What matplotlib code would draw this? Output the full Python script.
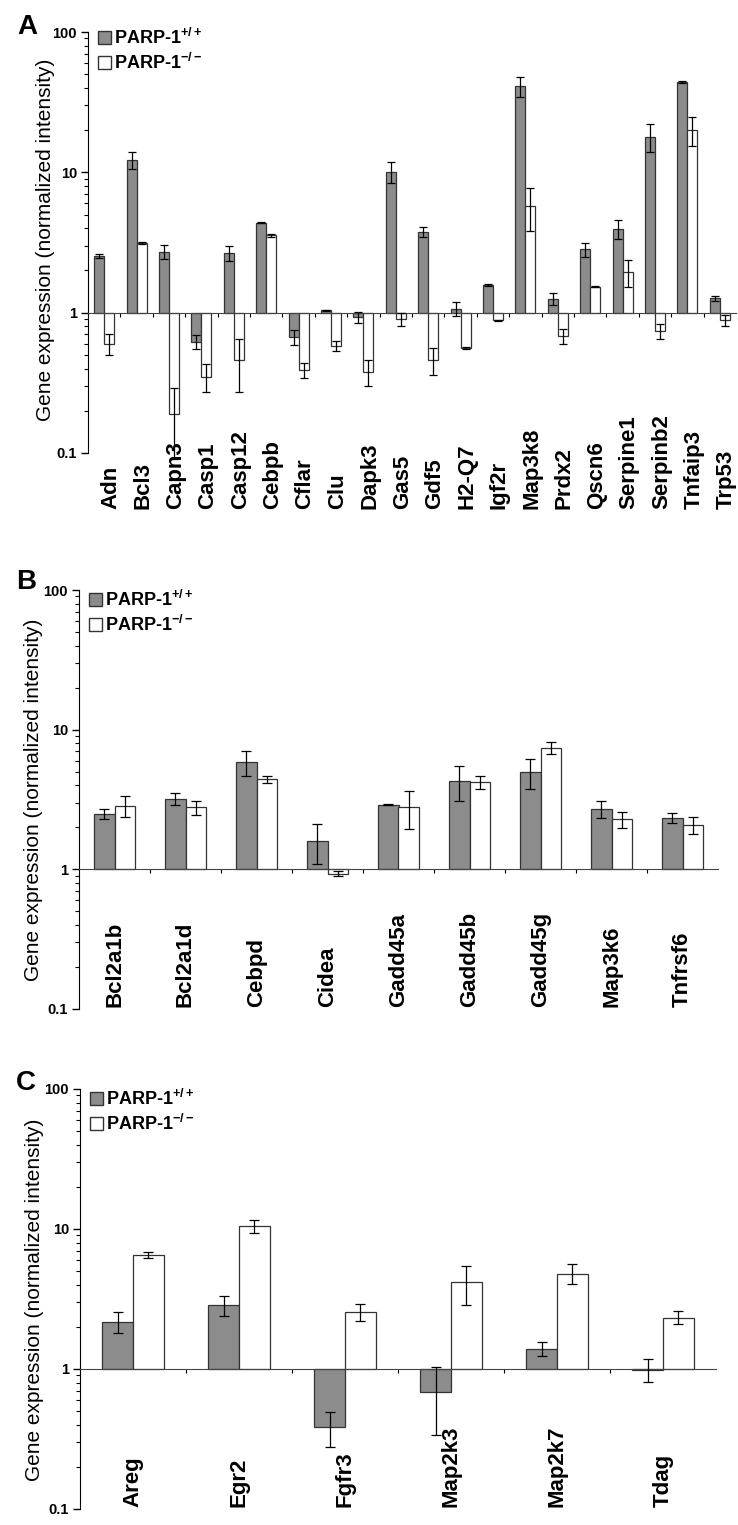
import numpy as np
import matplotlib
matplotlib.use('Agg')
import matplotlib.pyplot as plt
from matplotlib.patches import Patch
from matplotlib.ticker import NullFormatter
from matplotlib.transforms import blended_transform_factory

plt.rcParams['font.family'] = ['Liberation Sans', 'DejaVu Sans']
plt.rcParams['mathtext.fontset'] = 'custom'
plt.rcParams['mathtext.rm'] = 'Liberation Sans:bold'
plt.rcParams['mathtext.bf'] = 'Liberation Sans:bold'
plt.rcParams['mathtext.it'] = 'Liberation Sans:bold'
plt.rcParams['mathtext.default'] = 'bf'

# ---- panel A
genes_a = ['Adn', 'Bcl3', 'Capn3', 'Casp1', 'Casp12', 'Cebpb', 'Cflar', 'Clu', 'Dapk3', 'Gas5',
           'Gdf5', 'H2-Q7', 'Igf2r', 'Map3k8', 'Prdx2', 'Qscn6', 'Serpine1', 'Serpinb2', 'Tnfaip3', 'Trp53']
wt_a = [2.54, 12.3, 2.72, 0.62, 2.65, 4.38, 0.67, 1.04, 0.93, 10.1,
        3.75, 1.07, 1.57, 41.0, 1.26, 2.83, 3.95, 18.0, 44.0, 1.27]
wt_a_err = [0.08, 1.7, 0.3, 0.07, 0.33, 0.05, 0.08, 0.01, 0.08, 1.7,
            0.3, 0.12, 0.02, 6.5, 0.12, 0.33, 0.6, 4.0, 1.0, 0.05]
ko_a = [0.60, 3.12, 0.19, 0.35, 0.46, 3.55, 0.39, 0.58, 0.38, 0.90,
        0.46, 0.56, 0.88, 5.8, 0.68, 1.53, 1.95, 0.74, 20.0, 0.88]
ko_a_err = [0.1, 0.05, 0.1, 0.08, 0.19, 0.07, 0.045, 0.05, 0.08, 0.1,
            0.1, 0.01, 0.01, 1.95, 0.08, 0.01, 0.43, 0.09, 4.7, 0.08]

# ---- panel B
genes_b = ['Bcl2a1b', 'Bcl2a1d', 'Cebpd', 'Cidea', 'Gadd45a', 'Gadd45b', 'Gadd45g', 'Map3k6', 'Tnfrsf6']
wt_b = [2.5, 3.2, 5.85, 1.6, 2.91, 4.28, 4.97, 2.7, 2.33]
wt_b_err = [0.2, 0.3, 1.2, 0.5, 0.03, 1.2, 1.2, 0.37, 0.2]
ko_b = [2.86, 2.78, 4.4, 0.93, 2.78, 4.2, 7.45, 2.28, 2.08]
ko_b_err = [0.5, 0.33, 0.25, 0.04, 0.83, 0.43, 0.77, 0.3, 0.3]

# ---- panel C
genes_c = ['Areg', 'Egr2', 'Fgfr3', 'Map2k3', 'Map2k7', 'Tdag']
wt_c = [2.17, 2.85, 0.385, 0.69, 1.4, 0.99]
wt_c_err = [0.37, 0.45, 0.106, 0.35, 0.17, 0.18]
ko_c = [6.55, 10.5, 2.55, 4.15, 4.8, 2.33]
ko_c_err = [0.35, 1.1, 0.34, 1.3, 0.78, 0.25]

legend_labels = ['PARP-1$^{+/+}$', 'PARP-1$^{-/-}$']
ylab = 'Gene expression (normalized intensity)'

GRAY = '#8c8c8c'
EDGE = '#333333'
W, H = 738.0, 1525.0


def px_axes(l, t, r, b):
    return [l / W, 1 - b / H, (r - l) / W, (b - t) / H]


def panel(ax, genes, wt, wt_err, ko, ko_err, width, cap, label_dx, label_y, leg_xy):
    x = np.arange(len(genes))
    wt = np.array(wt)
    ko = np.array(ko)
    ax.bar(x - width / 2, wt - 1, width, bottom=1, color=GRAY, edgecolor=EDGE, linewidth=0.9, zorder=2)
    ax.bar(x + width / 2, ko - 1, width, bottom=1, color='white', edgecolor=EDGE, linewidth=0.9, zorder=2)
    for xx, yy, ee in [(x - width / 2, wt, wt_err), (x + width / 2, ko, ko_err)]:
        eb = ax.errorbar(xx, yy, yerr=ee, fmt='none', ecolor='black', elinewidth=0.9,
                         capsize=cap, capthick=0.9, zorder=3)
        for art in list(eb.lines[1]) + list(eb.lines[2]):
            art.set_clip_on(False)

    ax.set_yscale('log')
    ax.set_ylim(0.1, 100)
    ax.set_xlim(-0.5, len(genes) - 0.5)
    ax.set_yticks([0.1, 1, 10, 100])
    ax.set_yticklabels(['0.1', '1', '10', '100'], fontweight='bold', fontsize=10.5)
    ax.yaxis.set_minor_formatter(NullFormatter())
    ax.tick_params(axis='y', which='major', length=5, width=1, pad=3)
    ax.tick_params(axis='y', which='minor', length=3, width=0.8)
    ax.set_xticks(np.arange(len(genes) - 1) + 0.5)
    ax.set_xticklabels([])
    ax.tick_params(axis='x', which='major', length=3, width=0.8, direction='out')
    ax.spines['top'].set_visible(False)
    ax.spines['right'].set_visible(False)
    ax.spines['bottom'].set_position(('data', 1))
    ax.spines['bottom'].set_color('#444444')

    tr = blended_transform_factory(ax.transData, ax.transAxes)
    for i, g in enumerate(genes):
        ax.text(i + label_dx, label_y, g, transform=tr, rotation=90, ha='center', va='bottom',
                fontsize=16, fontweight='bold')

    handles = [Patch(facecolor=GRAY, edgecolor=EDGE), Patch(facecolor='white', edgecolor=EDGE)]
    ax.legend(handles, legend_labels, loc='upper left', bbox_to_anchor=leg_xy, frameon=False,
              prop={'weight': 'bold', 'size': 13}, handlelength=0.72, handleheight=0.72,
              handletextpad=0.2, labelspacing=0.25, borderpad=0, borderaxespad=0)


fig = plt.figure(figsize=(7.38, 15.25), dpi=100)

axA = fig.add_axes(px_axes(88, 32, 736, 453))
panel(axA, genes_a, wt_a, wt_a_err, ko_a, ko_a_err, 0.31, 2.8, 0.2, -0.132, (0.015, 1.01))

axB = fig.add_axes(px_axes(79, 590, 718, 1009))
panel(axB, genes_b, wt_b, wt_b_err, ko_b, ko_b_err, 0.29, 3.6, 0.0, 0.005, (0.015, 1.0))

axC = fig.add_axes(px_axes(80, 1089, 716, 1509))
panel(axC, genes_c, wt_c, wt_c_err, ko_c, ko_c_err, 0.29, 3.4, 0.0, 0.005, (0.015, 1.0))

# y labels and panel letters
for xp, yp in [(46, 240), (34, 800), (35, 1300)]:
    fig.text(xp / W, 1 - yp / H, ylab, rotation=90, ha='center', va='center', fontsize=15)
for lt, xp, yp in [('A', 27, 27), ('B', 26, 582), ('C', 26, 1083)]:
    fig.text(xp / W, 1 - yp / H, lt, ha='center', va='center', fontsize=20, fontweight='bold')

fig.savefig('out.png', dpi=100)
